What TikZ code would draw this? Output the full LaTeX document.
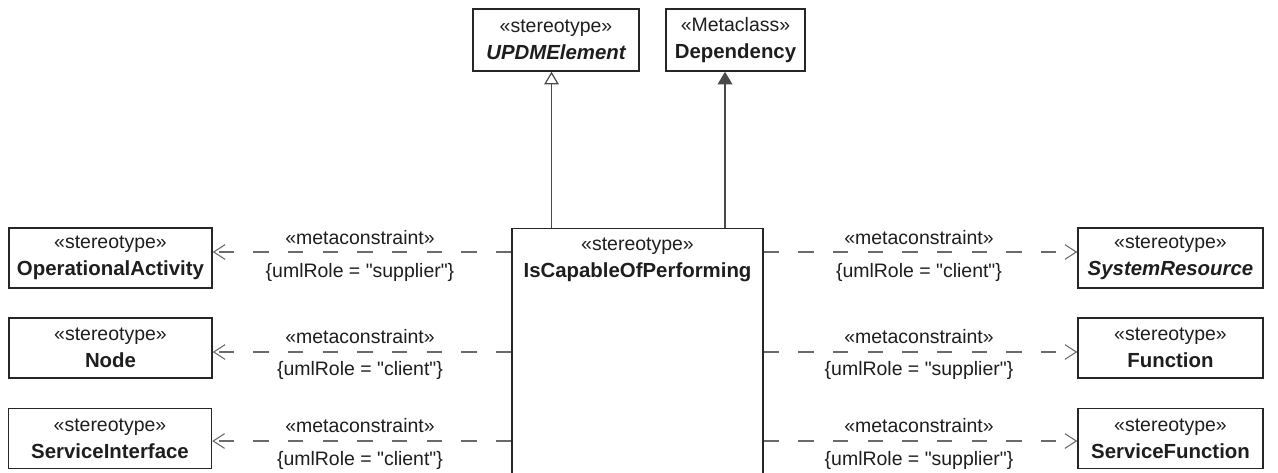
\documentclass[tikz,border=0pt]{standalone}
\usepackage{fontspec}
\setmainfont{Liberation Sans}
\usetikzlibrary{arrows.meta}
\definecolor{boxc}{HTML}{262626}
\definecolor{txt}{HTML}{1E1E1E}
\definecolor{linec}{HTML}{6A6A6A}
\definecolor{genc}{HTML}{4A4A4A}
\newcommand\nmfont{\fontsize{15.3}{20}\selectfont\bfseries}
\font\qtfont="Liberation Sans" at 14.6pt
\newcommand\qq{{\qtfont\char34}}
\begin{document}
\begin{tikzpicture}[x=0.75pt,y=-0.75pt,
  box/.style={draw=boxc, line width=1.1pt, fill=white, align=center, inner sep=0pt, text=txt,
    font=\fontsize{14.6}{20}\selectfont},
  sidebox/.style={box, minimum width=152.25pt, minimum height=45pt},
  rbox/.style={box, minimum width=138.75pt, minimum height=45pt},
  lbl/.style={inner sep=0pt, text=txt, font=\fontsize{14.6}{18}\selectfont},
  conn/.style={draw=linec, line width=0.8pt, dash pattern=on 11.5pt off 14.5pt,
    -{Straight Barb[length=8.5pt,width=11pt,line width=0.8pt]}},
  genl/.style={draw=genc, line width=1.1pt}
]
\useasboundingbox (0,0) rectangle (1278,472);
\fill[white] (0,0) rectangle (1278,472);

% top boxes
\node[box, minimum width=124.5pt, minimum height=46.5pt] (upd) at (556,40)
  {«stereotype»\\{\nmfont\itshape UPDMElement}};
\node[box, minimum width=104.25pt, minimum height=46.5pt] (dep) at (735.5,40)
  {«Metaclass»\\{\nmfont Dependency}};

% central box
\node[draw=boxc, line width=1.1pt, fill=white, minimum width=188.25pt, minimum height=204pt,
  anchor=north, inner sep=0pt] (cap) at (637.5,228) {};
\node[anchor=north, align=center, inner sep=0pt, text=txt,
  font=\fontsize{14.6}{20}\selectfont] (captext) at (637.5,238)
  {«stereotype»\\{\nmfont IsCapableOfPerforming}};

% left boxes
\node[sidebox] (opact) at (110.5,258) {«stereotype»\\{\nmfont OperationalActivity}};
\node[sidebox] (nodeb) at (110.5,348) {«stereotype»\\{\nmfont Node}};
\node[sidebox] (sint) at (110,438.5) {«stereotype»\\{\nmfont ServiceInterface}};

% right boxes
\node[rbox] (sres) at (1170.5,258) {«stereotype»\\{\nmfont\itshape SystemResource}};
\node[rbox] (func) at (1170.5,348) {«stereotype»\\{\nmfont Function}};
\node[rbox] (sfun) at (1170.5,438.5) {«stereotype»\\{\nmfont ServiceFunction}};

% row and column coordinates
\coordinate (rA) at (0,252);
\coordinate (rB) at (0,352);
\coordinate (rC) at (0,441);
\coordinate (vA) at (551.5,0);
\coordinate (vB) at (725,0);

% generalization and dependency
\draw[genl, -{Triangle[open, length=9.5pt, width=11pt, line width=0.9pt, fill=white]}]
  (cap.north -| vA) -- (upd.south -| vA);
\draw[genl, -{Triangle[length=9.5pt, width=11pt, fill=genc]}]
  (cap.north -| vB) -- (dep.south -| vB);

% metaconstraints left
\draw[conn] (cap.west |- rA) -- (opact.east |- rA);
\draw[conn] (cap.west |- rB) -- (nodeb.east |- rB);
\draw[conn] (cap.west |- rC) -- (sint.east |- rC);
% metaconstraints right
\draw[conn] (cap.east |- rA) -- (sres.west |- rA);
\draw[conn] (cap.east |- rB) -- (func.west |- rB);
\draw[conn] (cap.east |- rC) -- (sfun.west |- rC);

% labels left
\node[lbl] (mA) at (360,238) {«metaconstraint»};
\node[lbl] (uA) at (360,272) {\{umlRole = \qq supplier\qq\}};
\node[lbl] (mB) at (360,337) {«metaconstraint»};
\node[lbl] (uB) at (360,370) {\{umlRole = \qq client\qq\}};
\node[lbl] (mC) at (360,426) {«metaconstraint»};
\node[lbl] (uC) at (360,460) {\{umlRole = \qq client\qq\}};
% labels right
\node[lbl] (mD) at (919,238) {«metaconstraint»};
\node[lbl] (uD) at (919,272) {\{umlRole = \qq client\qq\}};
\node[lbl] (mE) at (919,337) {«metaconstraint»};
\node[lbl] (uE) at (919,370) {\{umlRole = \qq supplier\qq\}};
\node[lbl] (mF) at (919,426) {«metaconstraint»};
\node[lbl] (uF) at (919,460) {\{umlRole = \qq supplier\qq\}};
\end{tikzpicture}
\end{document}
